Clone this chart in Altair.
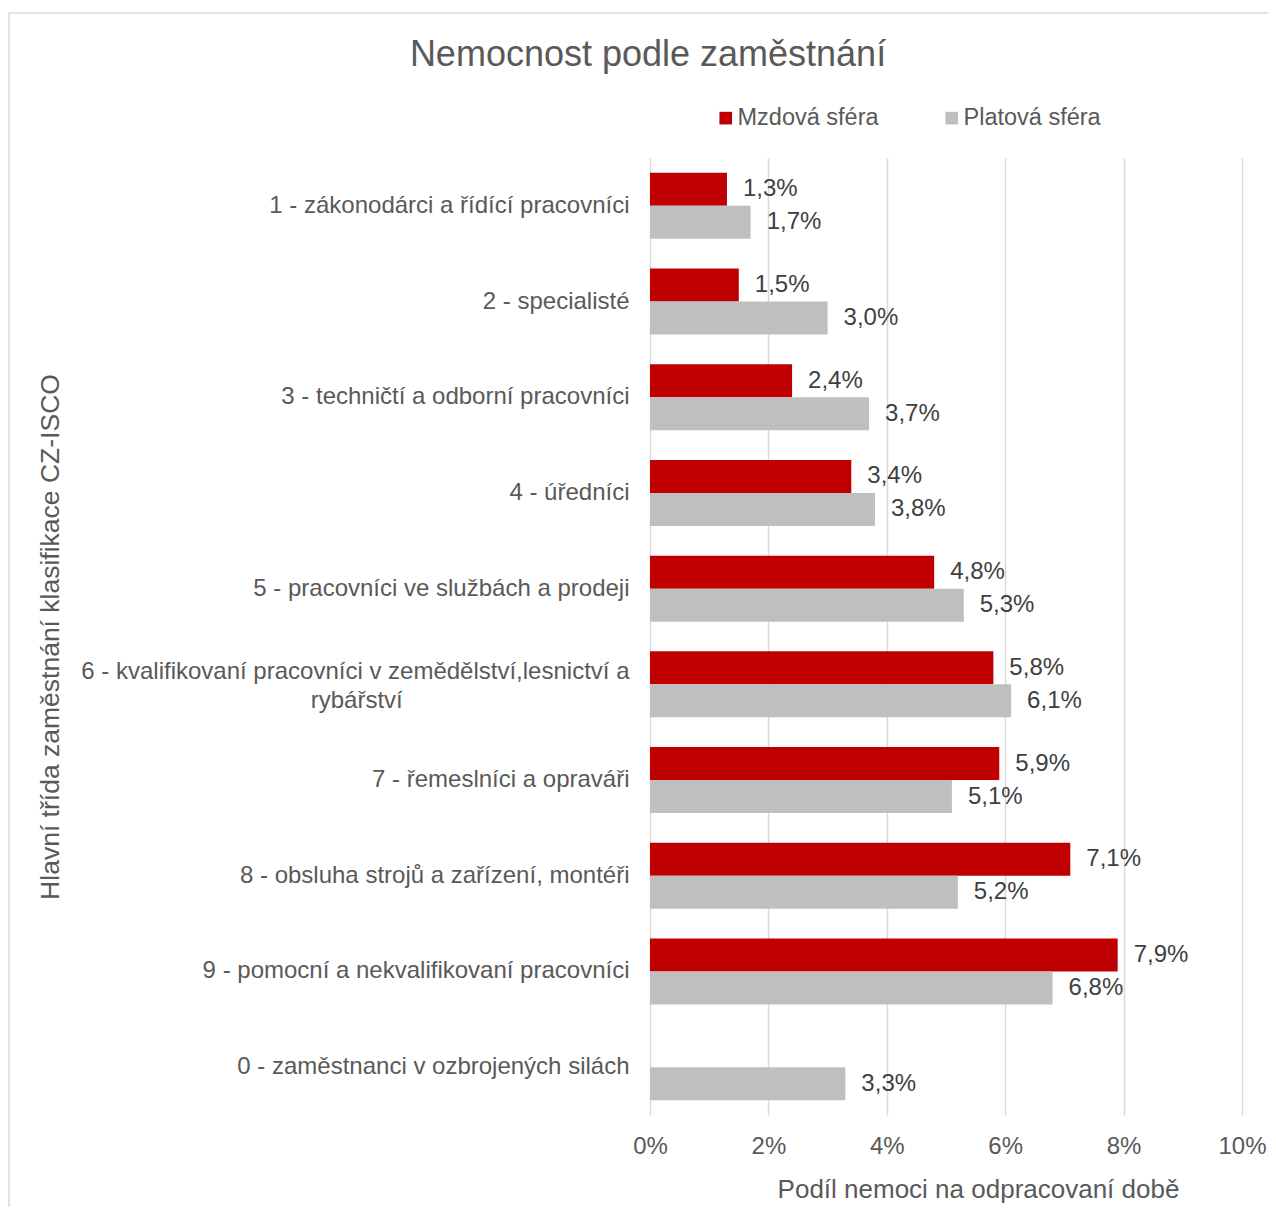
import altair as alt
import pandas as pd

FONT = "Liberation Sans, Arial, Helvetica, sans-serif"

chart_title = "Nemocnost podle zaměstnání"
x_title = "Podíl nemoci na odpracovaní době"
y_title = "Hlavní třída zaměstnání klasifikace CZ-ISCO"

categories = [
    "1 - zákonodárci a řídící pracovníci",
    "2 - specialisté",
    "3 - techničtí a odborní pracovníci",
    "4 - úředníci",
    "5 - pracovníci ve službách a prodeji",
    "6 - kvalifikovaní pracovníci v zemědělství,lesnictví a rybářství",
    "7 - řemeslníci a opraváři",
    "8 - obsluha strojů a zařízení, montéři",
    "9 - pomocní a nekvalifikovaní pracovníci",
    "0 - zaměstnanci v ozbrojených silách",
]
# wrapped label for the long category (line 1, line 2)
wrapped_cat = categories[5]
wrapped_lines = ["6 - kvalifikovaní pracovníci v zemědělství,lesnictví a", "rybářství"]

series = ["Mzdová sféra", "Platová sféra"]
mzdova = [1.3, 1.5, 2.4, 3.4, 4.8, 5.8, 5.9, 7.1, 7.9, None]
platova = [1.7, 3.0, 3.7, 3.8, 5.3, 6.1, 5.1, 5.2, 6.8, 3.3]
colors = ["#C00000", "#BFBFBF"]
x_ticks = [0, 2, 4, 6, 8, 10]

rows = []
for cat, m, p in zip(categories, mzdova, platova):
    if m is not None:
        rows.append({"category": cat, "series": series[0], "value": m})
    if p is not None:
        rows.append({"category": cat, "series": series[1], "value": p})
df = pd.DataFrame(rows)

# second line centred under the first: pad with no-break spaces, closed by a
# zero-width space so that the padding is not trimmed away
nbsp = "\u00a0"
line2 = wrapped_lines[1] + nbsp * 34 + "\u200b"
label_expr = (
    f"datum.value == '{wrapped_cat}' ? ['{wrapped_lines[0]}', '{line2}'] : datum.value"
)

y_scale = alt.Scale(domain=categories, paddingInner=0, paddingOuter=0)
yoff_scale = alt.Scale(domain=series, paddingInner=0, paddingOuter=0.45)
x_scale = alt.Scale(domain=[0, 10], nice=False, zero=True)

bars = alt.Chart(df).mark_bar().encode(
    x=alt.X(
        "value:Q",
        scale=x_scale,
        axis=alt.Axis(
            values=x_ticks,
            labelExpr="datum.value + '%'",
            labelFont=FONT,
            labelFontSize=24,
            labelColor="#595959",
            labelPadding=19,
            labelFlush=False,
            ticks=False,
            tickSize=0,
            domain=False,
            grid=True,
            gridColor="#D9D9D9",
            gridWidth=1.5,
            title=x_title,
            titleFont=FONT,
            titleFontSize=26,
            titleFontWeight="normal",
            titleColor="#595959",
            titleX=328,
            titleY=61,
            titleAlign="center",
            titleBaseline="top",
        ),
    ),
    y=alt.Y(
        "category:N",
        sort=categories,
        scale=y_scale,
        axis=alt.Axis(
            labelExpr=label_expr,
            labelFont=FONT,
            labelFontSize=24,
            labelColor="#595959",
            labelPadding=21,
            labelLimit=0,
            labelLineHeight=29,
            labelOffset={
                "condition": {"test": f"datum.value == '{wrapped_cat}'", "value": -12},
                "value": 0,
            },
            ticks=False,
            tickSize=0,
            domain=False,
            grid=False,
            title=y_title,
            titleFont=FONT,
            titleFontSize=26.5,
            titleFontWeight="normal",
            titleColor="#595959",
            titleX=-600,
            titleY=478.5,
            titleAngle=270,
            titleAlign="center",
            titleBaseline="middle",
        ),
    ),
    yOffset=alt.YOffset("series:N", scale=yoff_scale),
    color=alt.Color(
        "series:N",
        scale=alt.Scale(domain=series, range=colors),
        legend=alt.Legend(
            orient="none",
            legendX=64,
            legendY=-52,
            direction="horizontal",
            title=None,
            symbolType="square",
            symbolSize=160,
            symbolStrokeWidth=0,
            labelFont=FONT,
            labelFontSize=23.5,
            labelColor="#595959",
            labelOffset=0,
            columnPadding=61,
            padding=0,
        ),
    ),
)

labels = (
    alt.Chart(df)
    .transform_calculate(label="replace(format(datum.value, '.1f'), '.', ',') + '%'")
    .mark_text(align="left", baseline="middle", dx=16, font=FONT, fontSize=24, color="#404040")
    .encode(
        x=alt.X("value:Q", scale=x_scale),
        y=alt.Y("category:N", sort=categories, scale=y_scale),
        yOffset=alt.YOffset("series:N", scale=yoff_scale),
        text="label:N",
    )
)

border = (
    alt.Chart(pd.DataFrame({"b": [1]}))
    .mark_rect(filled=False, stroke="#D9D9D9", strokeWidth=1.5)
    .encode(
        x=alt.value(-641),
        x2=alt.value(660),
        y=alt.value(-145),
        y2=alt.value(1080),
    )
)

title = (
    alt.Chart(pd.DataFrame({"t": [chart_title]}))
    .mark_text(align="center", baseline="alphabetic", font=FONT, fontSize=36, color="#595959")
    .encode(x=alt.value(-2), y=alt.value(-92), text="t:N")
)

chart = (
    alt.layer(border, bars, labels, title)
    .properties(
        width=592,
        height=957,
        autosize=alt.AutoSizeParams(type="none"),
        padding={"left": 642, "top": 150, "right": 26, "bottom": 92},
    )
    .configure_view(stroke=None)
)

chart.save("out.html", embed_options={"renderer": "svg", "actions": False})
